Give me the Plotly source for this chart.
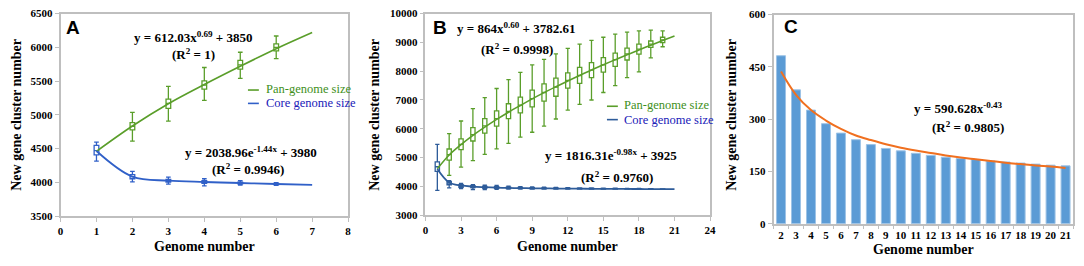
import plotly.graph_objects as go

W, H = 1084, 266

# ---------------- Panel A data ----------------
a_pan_x = [2, 3, 4, 5, 6]
a_pan_med = [4830, 5170, 5440, 5740, 6000]
a_pan_q1 = [4776, 5097, 5380, 5678, 5947]
a_pan_q3 = [4884, 5234, 5503, 5806, 6051]
a_pan_lo = [4610, 4908, 5215, 5541, 5834]
a_pan_hi = [5036, 5423, 5702, 5928, 6169]
a_fit_x = [1, 2, 3, 4, 5, 6, 7]
a_pan_fit = [4460, 4835, 5165, 5450, 5720, 5980, 6220]

a_core_x = [1, 2, 3, 4, 5, 6]
a_core_med = [4470, 4085, 4025, 4005, 3990, 3975]
a_core_q1 = [4407, 4053, 4005, 3985, 3978, 3967]
a_core_q3 = [4549, 4115, 4045, 4025, 4002, 3983]
a_core_lo = [4313, 4006, 3973, 3949, 3960, 3955]
a_core_hi = [4596, 4162, 4077, 4053, 4025, 3997]
a_core_fit = [4465, 4085, 4025, 4005, 3990, 3975, 3963]

# ---------------- Panel B data ----------------
b_pan_x = [2, 3, 4, 5, 6, 7, 8, 9, 10, 11, 12, 13, 14, 15, 16, 17, 18, 19, 20]
b_pan_med = [5100, 5460, 5800, 6100, 6350, 6600, 6820, 7050, 7260, 7450,
             7680, 7850, 8040, 8220, 8400, 8600, 8770, 8940, 9090]
b_pan_q1 = [4912, 5276, 5575, 5850, 6090, 6350, 6550, 6760, 6960, 7130,
            7414, 7580, 7780, 7970, 8170, 8390, 8590, 8830, 8990]
b_pan_q3 = [5298, 5650, 6040, 6350, 6620, 6870, 7100, 7340, 7560, 7760,
            7945, 8130, 8300, 8475, 8630, 8800, 8940, 9050, 9180]
b_pan_lo = [4380, 4670, 4890, 5110, 5300, 5490, 5710, 5880, 6090, 6340,
            6650, 6850, 7000, 7260, 7500, 7780, 7980, 8460, 8850]
b_pan_hi = [5830, 6270, 6700, 7080, 7400, 7710, 7960, 8220, 8410, 8600,
            8790, 8940, 9070, 9180, 9290, 9360, 9400, 9425, 9400]
b_fit_x = [1, 2, 3, 4, 5, 6, 7, 8, 9, 10, 11, 12, 13, 14, 15, 16, 17, 18, 19, 20, 21]
b_pan_fit = [4610, 5090, 5450, 5770, 6055, 6325, 6575, 6810, 7040, 7255, 7460,
             7660, 7855, 8045, 8225, 8400, 8575, 8740, 8905, 9065, 9225]

b_core_x = [1, 2, 3, 4, 5, 6, 7, 8, 9, 10, 11, 12, 13, 14, 15, 16, 17, 18, 19, 20]
b_core_med = [4680, 4110, 4010, 3990, 3970, 3960, 3950, 3940, 3935, 3930,
              3928, 3925, 3922, 3920, 3918, 3915, 3912, 3910, 3908, 3905]
b_core_q1 = [4520, 4055, 3965, 3955, 3940, 3932, 3925, 3918, 3915, 3912,
             3912, 3910, 3908, 3907, 3906, 3904, 3902, 3901, 3900, 3898]
b_core_q3 = [4850, 4165, 4055, 4025, 4000, 3988, 3975, 3962, 3955, 3948,
             3944, 3940, 3936, 3933, 3930, 3926, 3922, 3919, 3916, 3912]
b_core_lo = [3860, 3950, 3920, 3890, 3890, 3895, 3900, 3900, 3900, 3902,
             3902, 3902, 3902, 3902, 3902, 3900, 3900, 3900, 3898, 3896]
b_core_hi = [5460, 4200, 4100, 4060, 4040, 4030, 4010, 3990, 3980, 3970,
             3962, 3956, 3950, 3946, 3940, 3935, 3930, 3926, 3920, 3915]
b_core_fit = [4600, 4130, 4030, 3990, 3970, 3955, 3945, 3938, 3932, 3928, 3924,
              3921, 3918, 3915, 3913, 3911, 3909, 3907, 3905, 3903, 3902]

# ---------------- Panel C data ----------------
c_genomes = ["2", "3", "4", "5", "6", "7", "8", "9", "10", "11", "12",
             "13", "14", "15", "16", "17", "18", "19", "20", "21"]
c_new = [482, 384, 326, 287, 260, 241, 227, 216, 209, 202, 196,
         191, 187, 184, 180, 177, 174, 171, 168, 166]
c_fit = [437, 370, 326, 296, 272, 253, 240, 228, 218, 210, 203,
         196, 190, 185, 180, 175, 171, 167, 164, 160]

# ---------------- styles ----------------
GREEN = "#5a9e2a"
BLUE_A = "#3060c8"
BLUE_B = "#2e5c9a"
BAR = "#5b9bd5"
ORANGE = "#f07020"
AXC = "#bfbfbf"
SERIF = "Liberation Serif"
SANS = "Liberation Sans"


def px(x):
    return x / W


def py(y):
    return 1 - y / H


fig = go.Figure()


def add_box(x, q1, med, q3, lo, hi, color, width, xa, ya):
    fig.add_trace(go.Box(
        x=x, q1=q1, median=med, q3=q3, lowerfence=lo, upperfence=hi,
        width=width, whiskerwidth=1, boxpoints=False,
        fillcolor="white", line=dict(color=color, width=1.3),
        showlegend=False, hoverinfo="skip", xaxis=xa, yaxis=ya))


def add_line(x, y, color, xa, ya, w=1.6):
    fig.add_trace(go.Scatter(
        x=x, y=y, mode="lines", line=dict(color=color, width=w, shape="spline"),
        showlegend=False, hoverinfo="skip", xaxis=xa, yaxis=ya))


# Panel A
add_line(a_fit_x, a_pan_fit, GREEN, "x", "y")
add_line(a_fit_x, a_core_fit, BLUE_A, "x", "y", 1.8)
add_box(a_pan_x, a_pan_q1, a_pan_med, a_pan_q3, a_pan_lo, a_pan_hi, GREEN, 0.13, "x", "y")
add_box(a_core_x, a_core_q1, a_core_med, a_core_q3, a_core_lo, a_core_hi, BLUE_A, 0.13, "x", "y")

# Panel B
add_line(b_fit_x, b_pan_fit, GREEN, "x2", "y2")
add_line(b_fit_x, b_core_fit, BLUE_B, "x2", "y2", 1.8)
add_box(b_pan_x, b_pan_q1, b_pan_med, b_pan_q3, b_pan_lo, b_pan_hi, GREEN, 0.36, "x2", "y2")
add_box(b_core_x, b_core_q1, b_core_med, b_core_q3, b_core_lo, b_core_hi, BLUE_B, 0.36, "x2", "y2")

# Panel C
fig.add_trace(go.Bar(
    x=c_genomes, y=c_new, width=0.6,
    marker=dict(color=BAR, line=dict(color="#9dc3e6", width=1)),
    showlegend=False, hoverinfo="skip", xaxis="x3", yaxis="y3"))
fig.add_trace(go.Scatter(
    x=c_genomes, y=c_fit, mode="lines",
    line=dict(color=ORANGE, width=2, shape="spline"),
    showlegend=False, hoverinfo="skip", xaxis="x3", yaxis="y3"))

tickfont = dict(family=SERIF, size=11, color="black", weight="bold")
axbase = dict(showline=True, linecolor=AXC, linewidth=1.5, mirror=True,
              ticks="outside", ticklen=4, tickcolor=AXC, showgrid=False,
              zeroline=False, tickfont=tickfont, tickformat="d")

fig.update_layout(
    width=W, height=H, margin=dict(l=0, r=0, t=0, b=0),
    paper_bgcolor="white", plot_bgcolor="white", showlegend=False,
    boxmode="overlay",
    xaxis=dict(axbase, domain=[px(58), px(348)], range=[0, 8], dtick=1, anchor="y"),
    yaxis=dict(axbase, domain=[py(220), py(8)], range=[3500, 6500], dtick=500, anchor="x"),
    xaxis2=dict(axbase, domain=[px(426), px(713)], range=[0, 24], dtick=3, anchor="y2"),
    yaxis2=dict(axbase, domain=[py(219), py(8)], range=[3000, 10000], dtick=1000, anchor="x2"),
    xaxis3=dict(axbase, domain=[px(777), px(1079)], type="category", anchor="y3",
                tickson="boundaries", range=[-0.5, 19.5], tickangle=0, tickformat=None),
    yaxis3=dict(axbase, domain=[py(228), py(9)], range=[0, 600], dtick=150, anchor="x3"),
)

ann = []


def text(x, y, s, size=13, color="black", family=SERIF, bold=True, angle=0, xanchor="center"):
    ann.append(dict(x=px(x), y=py(y), xref="paper", yref="paper", text=s, showarrow=False,
                    xanchor=xanchor, yanchor="middle", textangle=angle, borderpad=0,
                    font=dict(family=family, size=size, color=color,
                              weight="bold" if bold else "normal")))


# axis titles
for cx in (14, 375, 735):
    text(cx, (8 + 220) / 2, "New gene cluster number", size=14, angle=-90)
text(203, 252, "Genome number", size=14)
text(569, 252, "Genome number", size=14)
text(928, 255, "Genome number", size=14)

# panel letters
text(71, 22, "A", size=19, family=SANS)
text(441, 22, "B", size=19, family=SANS)
text(795, 21, "C", size=19, family=SANS)

# equations
text(192, 32, "y = 612.03x<sup>0.69</sup> + 3850")
text(192, 50, "(R<sup>2</sup> = 1)")
text(250, 153, "y = 2038.96e<sup>-1.44x</sup> + 3980")
text(247, 171, "(R<sup>2</sup> = 0.9946)")
text(518, 23, "y = 864x<sup>0.60</sup> + 3782.61")
text(518, 45, "(R<sup>2</sup> = 0.9998)")
text(613, 156, "y = 1816.31e<sup>-0.98x</sup> + 3925")
text(619, 179, "(R<sup>2</sup> = 0.9760)")
text(964, 107, "y = 590.628x<sup>-0.43</sup>")
text(973, 127, "(R<sup>2</sup> = 0.9805)")

# legends
text(264, 87, "Pan-genome size", size=12.5, color="#3e8f1a", bold=False, xanchor="left")
text(264, 102, "Core genome size", size=12.5, color="#2020b8", bold=False, xanchor="left")
text(625, 104, "Pan-genome size", size=12.5, color="#3e8f1a", bold=False, xanchor="left")
text(625, 119, "Core genome size", size=12.5, color="#2020b8", bold=False, xanchor="left")

shapes = []
for (x0, x1, y, c) in [(247, 258, 88, GREEN), (247, 258, 102, BLUE_A),
                       (609, 620, 105, GREEN), (609, 620, 119, BLUE_B)]:
    shapes.append(dict(type="line", xref="paper", yref="paper",
                       x0=px(x0), x1=px(x1), y0=py(y), y1=py(y),
                       line=dict(color=c, width=1.6)))

fig.update_layout(annotations=ann, shapes=shapes)
fig.write_html(
    "out.html",
    config={"displayModeBar": False},
    post_script="document.body.style.margin='0';document.body.style.overflow='hidden';",
)
